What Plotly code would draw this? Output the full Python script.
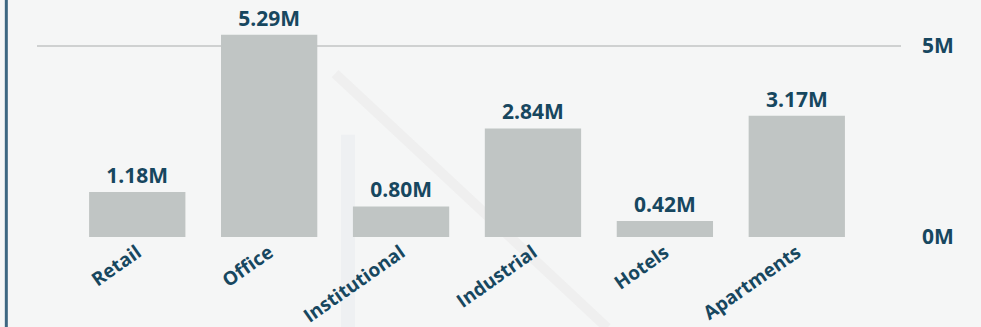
import plotly.graph_objects as go

categories = ['Retail', 'Office', 'Institutional', 'Industrial', 'Hotels', 'Apartments']
values = [1.18e6, 5.29e6, 0.80e6, 2.84e6, 0.42e6, 3.17e6]
value_labels = ['1.18M', '5.29M', '0.80M', '2.84M', '0.42M', '3.17M']
tick_vals = [0, 5e6]
tick_text = ['0M', '5M']

navy = '#17475f'
bg = '#f5f6f6'
font_family = 'Open Sans'

fig = go.Figure()
fig.add_trace(go.Bar(
    x=categories, y=values,
    text=value_labels, textposition='outside',
    textfont=dict(family=font_family, size=21, color=navy, weight='bold'),
    marker=dict(color='#c0c5c4', line=dict(width=0)),
    cliponaxis=False, hoverinfo='skip'
))

fig.update_layout(
    width=981, height=327,
    margin=dict(l=37, r=80, t=10, b=90),
    paper_bgcolor=bg, plot_bgcolor='rgba(0,0,0,0)',
    bargap=0.27, showlegend=False,
    font=dict(family=font_family, color=navy),
)
fig.update_xaxes(
    range=[-0.76, 5.79], tickangle=-35, showgrid=False, showline=False,
    ticks='', automargin=False,
    tickfont=dict(family=font_family, size=19, color=navy, weight='bold'),
)
fig.update_yaxes(
    side='right', range=[0, 5.94e6], tickvals=tick_vals, ticktext=tick_text,
    showgrid=True, gridcolor='#cfd1d1', gridwidth=2, zeroline=False,
    ticklabelstandoff=20, automargin=False,
    tickfont=dict(family=font_family, size=21, color=navy, weight='bold'),
)

# faint watermark strokes in the background
fig.add_shape(type='line', xref='paper', yref='paper', x0=0.345, y0=0.72, x1=0.66, y1=-0.4,
              line=dict(color='#efefef', width=10), layer='below')
fig.add_shape(type='line', xref='paper', yref='paper', x0=0.36, y0=0.45, x1=0.36, y1=-0.4,
              line=dict(color='#eef0f2', width=14), layer='below')

# left accent border
fig.add_shape(type='line', xref='paper', yref='paper', x0=-0.0355, x1=-0.0355, y0=-0.5, y1=1.1,
              line=dict(color='#3d6781', width=3))

fig.write_html("out.html", config={'displayModeBar': False},
               post_script="document.body.style.margin='0';document.body.style.background='%s';" % bg)
